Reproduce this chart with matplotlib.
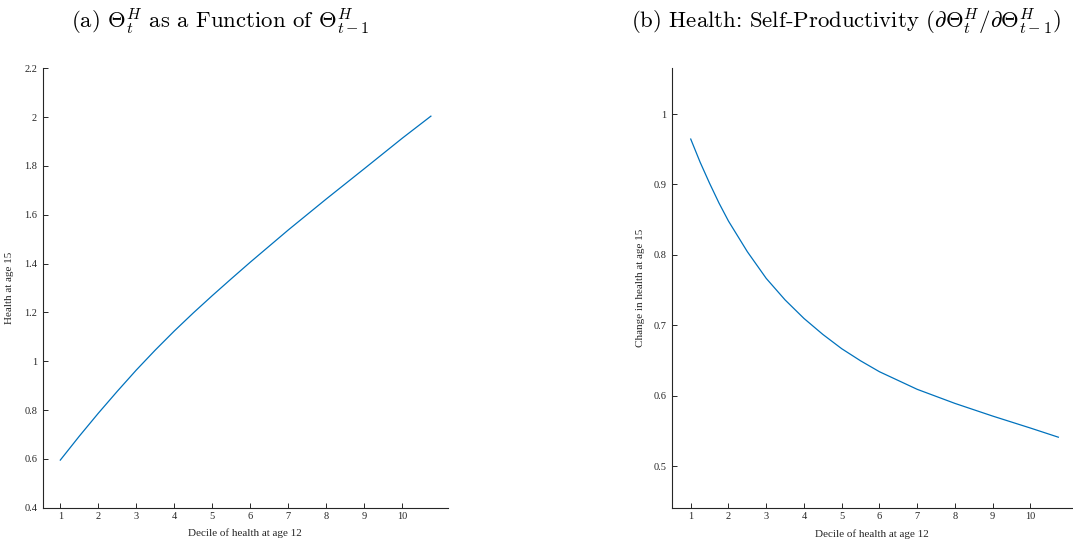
import matplotlib
matplotlib.use("Agg")
import matplotlib.pyplot as plt

# Values
decile_a = [1, 1.5, 2, 2.5, 3, 3.5, 4, 4.5, 5, 5.5, 6, 7, 8, 9, 10, 10.75]
health_15 = [0.595, 0.693, 0.787, 0.877, 0.964, 1.046, 1.124, 1.198, 1.269,
             1.338, 1.406, 1.538, 1.665, 1.789, 1.914, 2.004]

decile_b = [1, 1.25, 1.5, 1.75, 2, 2.5, 3, 3.5, 4, 4.5, 5, 5.5, 6, 7, 8, 9, 10, 10.74]
self_prod = [0.9645, 0.9315, 0.9016, 0.8735, 0.848, 0.8045, 0.7666, 0.736,
             0.7097, 0.687, 0.6667, 0.6495, 0.634, 0.609, 0.589, 0.571, 0.554, 0.541]

x_ticks = list(range(1, 11))
left_yticks = [0.4, 0.6, 0.8, 1, 1.2, 1.4, 1.6, 1.8, 2, 2.2]
right_yticks = [0.5, 0.6, 0.7, 0.8, 0.9, 1]

line_color = "#0072BD"
axis_color = "#262626"

plt.rcParams["font.family"] = ["Liberation Serif", "DejaVu Serif"]
plt.rcParams["mathtext.fontset"] = "cm"

W, H = 1073, 539
fig = plt.figure(figsize=(W / 100, H / 100), dpi=100)


def style_axes(ax):
    for side in ("top", "right"):
        ax.spines[side].set_visible(False)
    for side in ("left", "bottom"):
        ax.spines[side].set_color(axis_color)
        ax.spines[side].set_linewidth(0.8)
    ax.tick_params(direction="in", length=3.6, width=0.7, colors=axis_color,
                   labelsize=7.5, labelcolor=axis_color)
    ax.tick_params(axis="x", pad=3)
    ax.tick_params(axis="y", pad=4)
    ax.set_xticks(x_ticks)


def fmt(v):
    return f"{v:g}"


# (a) level of health
ax1 = fig.add_axes([42.7 / W, 1 - 507.7 / H, (448 - 42.7) / W, (507.7 - 68.3) / H])
ax1.plot(decile_a, health_15, color=line_color, lw=0.9)
style_axes(ax1)
ax1.set_xlim(0.537, 11.2)
ax1.set_ylim(0.4, 2.2)
ax1.set_yticks(left_yticks)
ax1.set_yticklabels([fmt(v) for v in left_yticks])
ax1.set_xlabel("Decile of health at age 12", fontsize=8, color=axis_color)
ax1.xaxis.set_label_coords(0.5, -0.048)
ax1.set_ylabel("Health at age 15", fontsize=8, color=axis_color)
ax1.yaxis.set_label_coords(-0.071, 0.5)

# (b) self-productivity
ax2 = fig.add_axes([671.7 / W, 1 - 508.3 / H, (1072.7 - 671.7) / W, (508.3 - 68.3) / H])
ax2.plot(decile_b, self_prod, color=line_color, lw=0.9)
style_axes(ax2)
ax2.set_xlim(0.496, 11.12)
ax2.set_ylim(0.44, 1.065)
ax2.set_yticks(right_yticks)
ax2.set_yticklabels([fmt(v) for v in right_yticks])
ax2.set_xlabel("Decile of health at age 12", fontsize=8, color=axis_color)
ax2.xaxis.set_label_coords(0.5, -0.048)
ax2.set_ylabel("Change in health at age 15", fontsize=8, color=axis_color)
ax2.yaxis.set_label_coords(-0.067, 0.5)

title_a = r"(a) $\Theta_t^H$ as a Function of $\Theta_{t-1}^H$"
title_b = r"(b) Health: Self-Productivity ($\partial\Theta_t^H/\partial\Theta_{t-1}^H$)"
fig.text(220 / W, 1 - 22 / H, title_a, ha="center", va="center", fontsize=16.4,
         family="cmr10")
fig.text(846 / W, 1 - 22 / H, title_b, ha="center", va="center", fontsize=16.4,
         family="cmr10")

fig.savefig("out.png", dpi=100)
